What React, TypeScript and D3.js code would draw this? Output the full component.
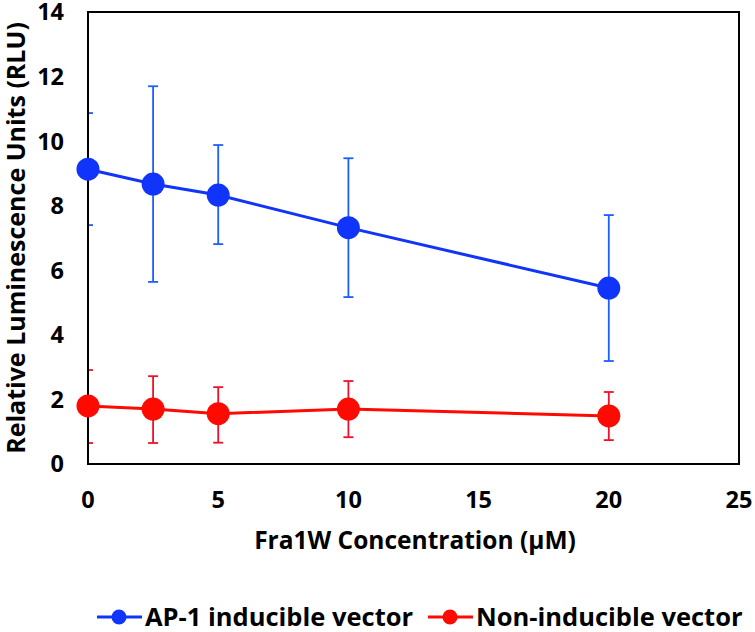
import React from "react";
import * as d3 from "d3";

const concentrations = [0, 2.5, 5, 10, 20];
const ap1Mean = [9.13, 8.67, 8.33, 7.32, 5.45];
const ap1Upper = [10.87, 11.7, 9.88, 9.47, 7.71];
const ap1Lower = [7.4, 5.64, 6.81, 5.17, 3.19];
const nonMean = [1.8, 1.7, 1.56, 1.7, 1.49];
const nonUpper = [2.91, 2.72, 2.38, 2.57, 2.23];
const nonLower = [0.65, 0.65, 0.66, 0.83, 0.74];
const xTicks = [0, 5, 10, 15, 20, 25];
const yTicks = [0, 2, 4, 6, 8, 10, 12, 14];
const seriesNames = ["AP-1 inducible vector", "Non-inducible vector"];

const W = 755, H = 632;
const M = { left: 88, top: 12, right: 739, bottom: 464 };
const FONT = "'Open Sans', sans-serif";

const series = [
  { name: seriesNames[0], mean: ap1Mean, up: ap1Upper, lo: ap1Lower, color: "#1034FA", err: "#1E5EFF" },
  { name: seriesNames[1], mean: nonMean, up: nonUpper, lo: nonLower, color: "#FF0A00", err: "#F0102A" },
];

export default function App() {
  const x = d3.scaleLinear().domain([0, 25]).range([M.left, M.right]);
  const y = d3.scaleLinear().domain([0, 14]).range([M.bottom, M.top]);
  const line = d3.line<number>().x((_, i) => x(concentrations[i])).y((d) => y(d));
  const cap = 5;
  return (
    <svg width={W} height={H} style={{ position: "absolute", left: 0, top: 0, background: "#fff" }}>
      <defs>
        <clipPath id="plotclip">
          <rect x={M.left} y={0} width={M.right - M.left} height={H} />
        </clipPath>
      </defs>
      {yTicks.map((t) => (
        <text key={"y" + t} x={64} y={y(t)} dy="0.36em" textAnchor="end" fontFamily={FONT} fontWeight={700} fontSize={23.5} fill="#000">
          {t}
        </text>
      ))}
      {xTicks.map((t) => (
        <text key={"x" + t} x={x(t)} y={508} textAnchor="middle" fontFamily={FONT} fontWeight={700} fontSize={23.5} fill="#000">
          {t}
        </text>
      ))}
      <text x={415} y={549} textAnchor="middle" fontFamily={FONT} fontWeight={700} fontSize={24.5} fill="#000">
        Fra1W Concentration (μM)
      </text>
      <text transform={`translate(25,238) rotate(-90)`} textAnchor="middle" fontFamily={FONT} fontWeight={700} fontSize={25} fill="#000">
        Relative Luminescence Units (RLU)
      </text>
      <g clipPath="url(#plotclip)">
        {series.map((s, si) =>
          concentrations.map((c, i) => (
            <g key={`e${si}-${i}`} stroke={s.err} strokeWidth={1.8}>
              <line x1={x(c)} x2={x(c)} y1={y(s.up[i])} y2={y(s.lo[i])} />
              <line x1={x(c) - cap} x2={x(c) + cap} y1={y(s.up[i])} y2={y(s.up[i])} />
              <line x1={x(c) - cap} x2={x(c) + cap} y1={y(s.lo[i])} y2={y(s.lo[i])} />
            </g>
          ))
        )}
      </g>
      <rect x={M.left} y={M.top} width={M.right - M.left} height={M.bottom - M.top} fill="none" stroke="#000" strokeWidth={2} />
      {series.map((s, si) => (
        <g key={"s" + si}>
          <path d={line(s.mean) || ""} fill="none" stroke={s.color} strokeWidth={3} />
          {s.mean.map((v, i) => (
            <circle key={i} cx={x(concentrations[i])} cy={y(v)} r={11.5} fill={s.color} />
          ))}
        </g>
      ))}
      {[
        { lx: 97, tx: 145 },
        { lx: 428, tx: 476 },
      ].map((p, i) => (
        <g key={"l" + i}>
          <line x1={p.lx} x2={p.lx + 45} y1={617} y2={617} stroke={series[i].color} strokeWidth={3} />
          <circle cx={p.lx + 22} cy={617} r={7.5} fill={series[i].color} />
          <text x={p.tx} y={617} dy="0.36em" fontFamily={FONT} fontWeight={700} fontSize={25.5} fill="#000">
            {series[i].name}
          </text>
        </g>
      ))}
    </svg>
  );
}
